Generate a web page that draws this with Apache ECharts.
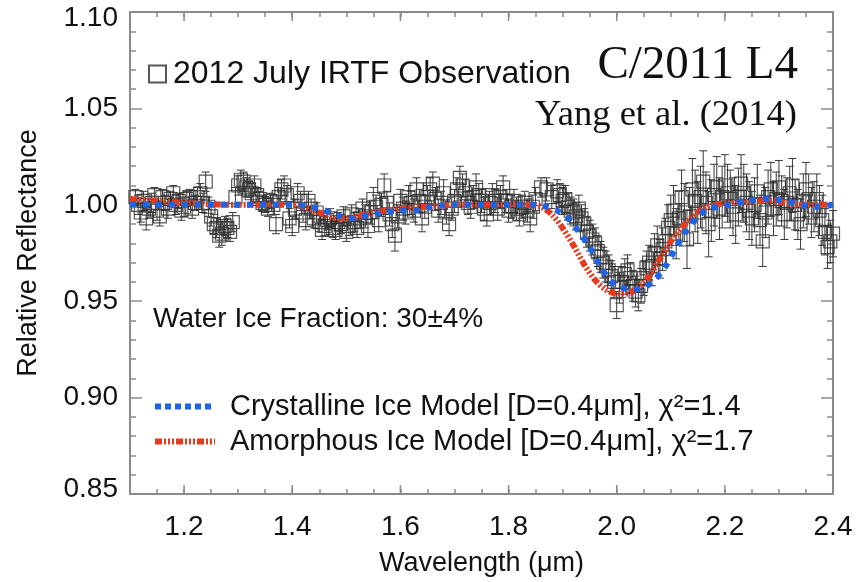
<!DOCTYPE html>
<html><head><meta charset="utf-8">
<script src="https://cdn.jsdelivr.net/npm/echarts@6/dist/echarts.min.js"></script>
<style>html,body{margin:0;padding:0;background:#fff}#c{width:856px;height:582px}</style>
</head><body><div id="c"></div>
<script>
// ---- observed spectrum (wavelength in micron, relative reflectance, 1-sigma error) ----
const obsWavelength = [
  1.110,1.115,1.120,1.125,1.130,1.135,1.140,1.145,1.150,1.155,
  1.160,1.165,1.170,1.175,1.180,1.185,1.190,1.195,1.200,1.205,
  1.210,1.215,1.220,1.225,1.230,1.235,1.240,1.245,1.250,1.255,
  1.260,1.265,1.270,1.275,1.280,1.285,1.290,1.295,1.300,1.305,
  1.310,1.315,1.320,1.325,1.330,1.335,1.340,1.345,1.350,1.355,
  1.360,1.365,1.370,1.375,1.380,1.385,1.390,1.395,1.400,1.405,
  1.410,1.415,1.420,1.425,1.430,1.435,1.440,1.445,1.450,1.455,
  1.460,1.465,1.470,1.475,1.480,1.485,1.490,1.495,1.500,1.505,
  1.510,1.515,1.520,1.525,1.530,1.535,1.540,1.545,1.550,1.555,
  1.560,1.565,1.570,1.575,1.580,1.585,1.590,1.595,1.600,1.605,
  1.610,1.615,1.620,1.625,1.630,1.635,1.640,1.645,1.650,1.655,
  1.660,1.665,1.670,1.675,1.680,1.685,1.690,1.695,1.700,1.705,
  1.710,1.715,1.720,1.725,1.730,1.735,1.740,1.745,1.750,1.755,
  1.760,1.765,1.770,1.775,1.780,1.785,1.790,1.795,1.800,1.805,
  1.810,1.815,1.820,1.825,1.830,1.835,1.840,1.845,1.850,1.860,
  1.870,1.880,1.890,1.895,1.900,1.905,1.910,1.915,1.920,1.925,
  1.930,1.935,1.940,1.945,1.950,1.955,1.960,1.965,1.970,1.975,
  1.980,1.985,1.990,1.995,2.000,2.005,2.010,2.015,2.020,2.025,
  2.030,2.035,2.040,2.045,2.050,2.055,2.060,2.065,2.070,2.075,
  2.080,2.085,2.090,2.095,2.100,2.105,2.110,2.115,2.120,2.125,
  2.130,2.135,2.140,2.145,2.150,2.155,2.160,2.165,2.170,2.175,
  2.180,2.185,2.190,2.195,2.200,2.205,2.210,2.215,2.220,2.225,
  2.230,2.235,2.240,2.245,2.250,2.255,2.260,2.265,2.270,2.275,
  2.280,2.285,2.290,2.295,2.300,2.305,2.310,2.315,2.320,2.325,
  2.330,2.335,2.340,2.345,2.350,2.355,2.360,2.365,2.370,2.375,
  2.380,2.385,2.390,2.395,2.400];
const obsReflectance = [
  1.004,1.000,0.996,1.002,0.993,0.998,1.001,1.005,0.997,0.994,
  1.004,1.001,0.998,1.003,1.006,1.000,1.002,0.997,0.999,1.003,
  1.004,0.998,1.001,1.004,1.006,1.001,1.012,0.999,0.994,0.990,
  0.988,0.984,0.985,0.989,0.988,0.986,0.991,1.004,1.010,1.013,
  1.012,1.009,1.008,1.006,1.010,1.005,1.003,1.001,1.000,0.998,
  1.002,1.000,0.990,1.004,1.008,1.010,1.005,0.993,0.989,0.998,
  1.006,1.002,0.996,0.992,1.002,0.998,0.993,0.996,0.991,0.987,
  0.989,0.992,0.993,0.988,0.987,0.991,0.990,0.994,0.986,0.989,
  0.995,0.991,0.988,0.993,0.998,0.994,0.989,0.996,1.003,0.999,
  0.992,1.000,1.010,1.001,0.995,0.990,0.984,0.994,1.002,0.998,
  0.996,1.004,1.001,0.997,1.008,1.002,0.993,0.999,1.004,1.008,
  1.011,1.003,0.997,1.001,1.006,0.996,0.990,0.998,1.002,1.008,
  1.014,1.010,1.006,1.001,0.999,1.004,1.009,1.005,1.002,0.998,
  0.995,1.001,1.005,1.002,0.998,1.004,1.009,1.002,0.997,0.999,
  1.002,0.998,0.995,0.999,1.001,0.997,0.993,0.999,1.003,1.009,
  1.008,1.004,1.007,1.005,1.002,1.003,0.999,0.997,0.996,0.994,
  0.998,0.993,0.990,0.986,0.984,0.982,0.980,0.976,0.973,0.970,
  0.968,0.966,0.963,0.960,0.948,0.957,0.960,0.964,0.966,0.962,
  0.958,0.955,0.953,0.958,0.962,0.967,0.970,0.968,0.975,0.979,
  0.972,0.977,0.981,0.988,0.992,0.997,0.985,0.993,1.004,0.996,
  0.982,0.994,1.008,1.002,0.996,1.004,1.012,1.001,0.990,0.997,
  1.005,1.009,0.998,1.004,1.010,1.006,1.003,0.999,0.995,1.004,
  1.011,1.006,1.001,0.997,0.993,1.000,1.007,0.992,0.981,0.996,
  1.004,1.008,0.998,1.003,1.009,1.002,0.995,1.001,1.006,1.010,
  1.000,0.995,0.990,1.002,1.008,1.003,0.996,0.999,1.003,0.997,
  0.992,0.986,0.978,0.981,0.985];
const obsError = [
  0.004,0.005,0.005,0.005,0.006,0.005,0.005,0.004,0.005,0.005,
  0.004,0.004,0.005,0.004,0.004,0.005,0.004,0.005,0.005,0.004,
  0.004,0.005,0.004,0.005,0.005,0.005,0.005,0.005,0.005,0.005,
  0.005,0.006,0.006,0.005,0.005,0.005,0.005,0.005,0.005,0.005,
  0.005,0.005,0.004,0.005,0.005,0.004,0.004,0.004,0.004,0.004,
  0.004,0.005,0.005,0.005,0.005,0.005,0.005,0.005,0.005,0.005,
  0.005,0.005,0.005,0.005,0.005,0.005,0.005,0.005,0.005,0.005,
  0.005,0.005,0.005,0.005,0.005,0.005,0.005,0.005,0.005,0.005,
  0.005,0.005,0.005,0.005,0.005,0.006,0.006,0.006,0.006,0.006,
  0.006,0.006,0.006,0.006,0.006,0.007,0.008,0.006,0.006,0.006,
  0.006,0.006,0.006,0.006,0.006,0.006,0.007,0.006,0.006,0.006,
  0.006,0.006,0.006,0.006,0.007,0.006,0.006,0.006,0.006,0.006,
  0.006,0.006,0.007,0.006,0.006,0.006,0.007,0.006,0.006,0.006,
  0.006,0.006,0.006,0.006,0.006,0.006,0.006,0.006,0.006,0.006,
  0.006,0.006,0.006,0.006,0.006,0.006,0.007,0.006,0.006,0.005,
  0.006,0.006,0.006,0.006,0.007,0.007,0.007,0.007,0.007,0.007,
  0.007,0.007,0.008,0.008,0.008,0.008,0.008,0.008,0.008,0.008,
  0.008,0.008,0.008,0.008,0.007,0.008,0.008,0.008,0.008,0.008,
  0.008,0.008,0.008,0.009,0.009,0.009,0.009,0.010,0.010,0.010,
  0.010,0.011,0.012,0.012,0.013,0.013,0.013,0.014,0.014,0.015,
  0.015,0.015,0.016,0.016,0.016,0.016,0.016,0.016,0.017,0.016,
  0.016,0.016,0.016,0.016,0.016,0.015,0.015,0.015,0.015,0.015,
  0.015,0.015,0.015,0.015,0.014,0.014,0.014,0.013,0.013,0.013,
  0.014,0.014,0.014,0.014,0.014,0.013,0.013,0.013,0.014,0.014,
  0.013,0.013,0.013,0.014,0.014,0.013,0.013,0.013,0.013,0.013,
  0.013,0.012,0.011,0.011,0.012];

// ---- models ----
const crystWavelength = [1.10,1.20,1.30,1.40,1.43,1.45,1.47,1.49,1.51,1.53,1.55,1.57,1.60,1.63,1.66,1.70,1.80,1.85,1.87,1.89,1.91,1.93,1.95,1.97,1.99,2.01,2.03,2.05,2.07,2.09,2.11,2.13,2.15,2.17,2.19,2.21,2.24,2.28,2.31,2.34,2.37,2.40];
const crystReflectance = [1.000,1.000,1.000,1.000,0.999,0.998,0.996,0.994,0.993,0.994,0.995,0.996,0.997,0.997,0.999,1.000,1.000,1.000,0.999,0.997,0.993,0.986,0.978,0.968,0.960,0.957,0.956,0.957,0.961,0.968,0.978,0.987,0.994,0.998,0.999,1.000,1.002,1.003,1.002,1.000,0.999,1.000];
const amorWavelength = [1.10,1.15,1.20,1.30,1.40,1.42,1.44,1.46,1.48,1.50,1.52,1.55,1.60,1.65,1.70,1.84,1.86,1.88,1.90,1.92,1.94,1.96,1.98,2.00,2.02,2.04,2.06,2.08,2.10,2.12,2.14,2.16,2.18,2.22,2.28,2.34,2.40];
const amorReflectance = [1.003,1.002,1.001,1.000,1.000,0.999,0.997,0.995,0.993,0.993,0.994,0.996,0.998,0.999,1.000,1.000,0.999,0.995,0.988,0.979,0.969,0.961,0.956,0.954,0.954,0.957,0.963,0.972,0.981,0.988,0.994,0.998,1.000,1.001,1.002,1.000,1.000];

// ---- axes ----
const xRange = [1.1, 2.4];
const xMajorTicks = [1.2,1.4,1.6,1.8,2.0,2.2,2.4];
const xTickLabels = ['1.2','1.4','1.6','1.8','2.0','2.2','2.4'];
const yTickValues = [0.85,0.90,0.95,1.00,1.05,1.10];
const yTickLabels = ['0.85','0.90','0.95','1.00','1.05','1.10'];

const obsName = '2012 July IRTF Observation';
const crystName = 'Crystalline Ice Model [D=0.4\u03bcm], \u03c7\u00b2=1.4';
const amorName = 'Amorphous Ice Model [D=0.4\u03bcm], \u03c7\u00b2=1.7';

const AX = '#8a8a8a';
const BLUE = '#1e64e6';
const RED = '#e63a1c';
const SANS = '"Liberation Sans", Arial, Helvetica, sans-serif';
const SERIF = '"Liberation Serif", "Times New Roman", serif';

function xLabel(v) {
  for (let i = 0; i < xMajorTicks.length; i++) {
    if (Math.abs(v - xMajorTicks[i]) < 1e-6) return xTickLabels[i];
  }
  return '';
}
function yLabel(v) {
  const last = yTickValues.length - 1;
  for (let i = 0; i <= last; i++) {
    if (Math.abs(v - yTickValues[i]) < 1e-6) {
      if (i === 0) return '{mn|' + yTickLabels[i] + '}';
      if (i === last) return '{mx|' + yTickLabels[i] + '}';
      return yTickLabels[i];
    }
  }
  return '';
}

const chart = echarts.init(document.getElementById('c'), null, {renderer: 'canvas'});

const baseX = {
  type: 'value', min: xRange[0], max: xRange[1], interval: 0.05,
  axisLine: {show: true, onZero: false, lineStyle: {color: AX, width: 2}},
  axisTick: {show: true, inside: true, length: 5, lineStyle: {color: AX, width: 1.5}},
  splitLine: {show: false}
};
const baseY = {
  type: 'value', min: yTickValues[0], max: yTickValues[yTickValues.length - 1], interval: 0.05,
  axisLine: {show: true, onZero: false, lineStyle: {color: AX, width: 2}},
  axisTick: {show: true, inside: true, length: 12, lineStyle: {color: AX, width: 1.5}},
  minorTick: {show: true, splitNumber: 5, length: 6, lineStyle: {color: AX, width: 1.5}},
  splitLine: {show: false}
};
const labelTxt = {fontSize: 28, fontFamily: SANS, color: '#111'};

const option = {
  animation: false,
  backgroundColor: '#fff',
  grid: {left: 130, right: 23, top: 12, bottom: 80, containLabel: false},
  xAxis: [
    Object.assign({}, baseX, {
      position: 'bottom',
      axisLabel: Object.assign({show: true, formatter: xLabel, margin: 19}, labelTxt),
      name: 'Wavelength (\u03bcm)', nameLocation: 'middle', nameGap: 56,
      nameTextStyle: {fontSize: 27, fontFamily: SANS, color: '#111'}
    }),
    Object.assign({}, baseX, {position: 'top', axisLabel: {show: false}})
  ],
  yAxis: [
    Object.assign({}, baseY, {
      position: 'left',
      axisLabel: Object.assign({show: true, formatter: yLabel, margin: 12,
        verticalAlignMinLabel: 'bottom', verticalAlignMaxLabel: 'top',
        rich: {
          mn: Object.assign({lineHeight: 10}, labelTxt),
          mx: Object.assign({lineHeight: 12}, labelTxt)
        }}, labelTxt),
      name: 'Relative Reflectance', nameLocation: 'middle', nameGap: 88,
      nameTextStyle: {fontSize: 27, fontFamily: SANS, color: '#111'}
    }),
    Object.assign({}, baseY, {position: 'right', axisLabel: {show: false}})
  ],
  legend: [
    {data: [obsName], left: 143, top: 53, orient: 'vertical', selectedMode: false,
     itemWidth: 17, itemHeight: 17, itemGap: 0,
     textStyle: {fontSize: 32, fontFamily: SANS, color: '#111', padding: [0, 0, 0, 2]}},
    {data: [crystName], left: 147, top: 387, selectedMode: false,
     itemWidth: 60, itemHeight: 14,
     itemStyle: {opacity: 0},
     lineStyle: {color: BLUE, width: 6, type: [6, 4]},
     textStyle: {fontSize: 29, fontFamily: SANS, color: '#111', padding: [0, 0, 0, 10]}},
    {data: [amorName], left: 147, top: 422, selectedMode: false,
     itemWidth: 60, itemHeight: 14,
     itemStyle: {opacity: 0},
     lineStyle: {color: RED, width: 6, type: [7, 2, 2, 2, 2, 2, 2, 2]},
     textStyle: {fontSize: 29, fontFamily: SANS, color: '#111', padding: [0, 0, 0, 10]}}
  ],
  graphic: [
    {type: 'text', right: 58, top: 42, z: 100,
     style: {text: 'C/2011 L4', font: '47px ' + SERIF, fill: '#111'}},
    {type: 'text', right: 59, top: 97, z: 100,
     style: {text: 'Yang et al. (2014)', font: '36.5px ' + SERIF, fill: '#111'}},
    {type: 'text', left: 153, top: 305, z: 100,
     style: {text: 'Water Ice Fraction: 30\u00b14%', font: '28px ' + SANS, fill: '#111'}}
  ],
  series: [
    {
      type: 'custom', name: 'errorbars', silent: true, z: 2,
      data: obsWavelength.map((x, i) => [x, obsReflectance[i], obsError[i]]),
      encode: {x: 0, y: 1},
      renderItem: function (params, api) {
        const x = api.value(0), y = api.value(1), e = api.value(2);
        const hi = api.coord([x, y + e]);
        const lo = api.coord([x, y - e]);
        const cw = 4;
        const st = {stroke: '#3a3a3a', lineWidth: 1};
        return {type: 'group', children: [
          {type: 'line', shape: {x1: hi[0], y1: hi[1], x2: lo[0], y2: lo[1]}, style: st},
          {type: 'line', shape: {x1: hi[0] - cw, y1: hi[1], x2: hi[0] + cw, y2: hi[1]}, style: st},
          {type: 'line', shape: {x1: lo[0] - cw, y1: lo[1], x2: lo[0] + cw, y2: lo[1]}, style: st}
        ]};
      }
    },
    {
      type: 'scatter', name: obsName, z: 3,
      data: obsWavelength.map((x, i) => [x, obsReflectance[i]]),
      symbol: 'rect', symbolSize: 13,
      itemStyle: {color: 'rgba(0,0,0,0)', borderColor: '#2a2a2a', borderWidth: 1.2}
    },
    {
      type: 'line', name: amorName, z: 4,
      data: amorWavelength.map((x, i) => [x, amorReflectance[i]]),
      symbol: 'none', showSymbol: false, smooth: 0.3,
      itemStyle: {color: RED, opacity: 0},
      lineStyle: {color: RED, width: 6, type: [7, 2, 2, 2, 2, 2, 2, 2]}
    },
    {
      type: 'line', name: crystName, z: 5,
      data: crystWavelength.map((x, i) => [x, crystReflectance[i]]),
      symbol: 'none', showSymbol: false, smooth: 0.3,
      itemStyle: {color: BLUE, opacity: 0},
      lineStyle: {color: BLUE, width: 6, type: [6, 7]}
    },
    {
      type: 'custom', name: 'majorTicks', silent: true, z: 6,
      data: xMajorTicks.map(v => [v]),
      encode: {x: 0},
      renderItem: function (params, api) {
        const v = api.value(0);
        const b = api.coord([v, yTickValues[0]]);
        const t = api.coord([v, yTickValues[yTickValues.length - 1]]);
        const st = {stroke: AX, lineWidth: 1.5};
        return {type: 'group', children: [
          {type: 'line', shape: {x1: b[0], y1: b[1], x2: b[0], y2: b[1] - 9}, style: st},
          {type: 'line', shape: {x1: t[0], y1: t[1], x2: t[0], y2: t[1] + 9}, style: st}
        ]};
      }
    }
  ]
};
chart.setOption(option);
</script>
</body></html>
